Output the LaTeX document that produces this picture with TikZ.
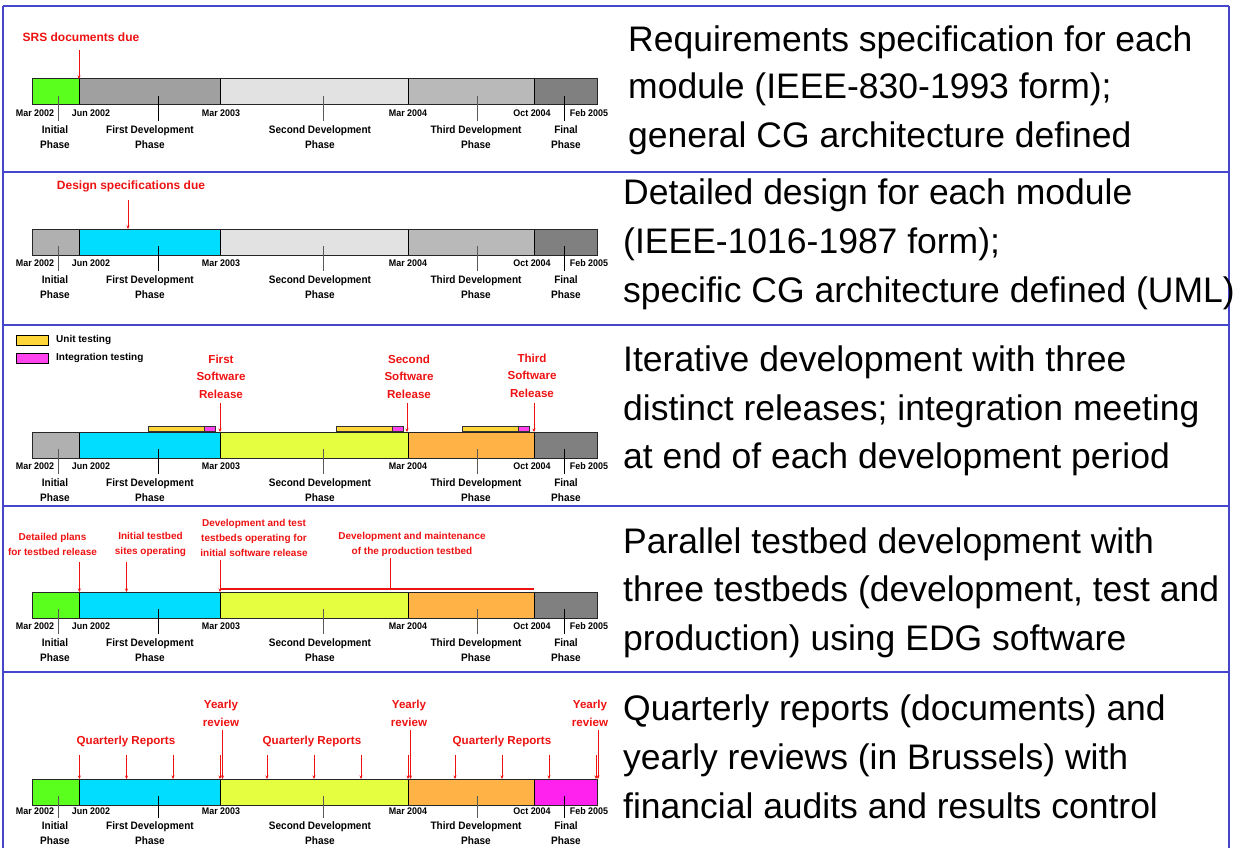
\documentclass[tikz,border=0pt]{standalone}
\usepackage{fontspec}
\setmainfont{Liberation Sans}
\newfontfamily\lblfont{Liberation Sans Bold}[FakeStretch=0.93]
\newfontfamily\redfnt{Liberation Sans Bold}
\usetikzlibrary{arrows.meta}
\definecolor{frameblue}{RGB}{70,70,205}
\definecolor{labred}{RGB}{238,18,18}
\definecolor{cgreen}{RGB}{90,255,30}
\definecolor{ccyan}{RGB}{0,221,255}
\definecolor{cygreen}{RGB}{229,255,64}
\definecolor{corange}{RGB}{255,179,71}
\definecolor{cmag}{RGB}{255,34,238}
\definecolor{gA}{RGB}{160,160,160}
\definecolor{gB}{RGB}{226,226,226}
\definecolor{gC}{RGB}{185,185,185}
\definecolor{gD}{RGB}{128,128,128}
\definecolor{gE}{RGB}{176,176,176}
\definecolor{unity}{RGB}{255,214,58}
\definecolor{integm}{RGB}{255,68,238}
\definecolor{ptrgray}{RGB}{90,90,90}
\tikzset{
  seg/.style={draw=black, line width=0.6pt},
  baredge/.style={draw=black!85, line width=1pt},
  ptr/.style={line width=0.9pt},
  datelbl/.style={font=\lblfont\fontsize{9.6}{11}\selectfont, inner sep=0pt},
  phaselbl/.style={font=\lblfont\fontsize{10.8}{15}\selectfont, align=center, inner sep=0pt},
  redlbl/.style={text=labred, font=\redfnt\fontsize{11.6}{17.5}\selectfont, align=center, inner sep=0pt},
  redsmall/.style={text=labred, font=\redfnt\fontsize{10}{15}\selectfont, align=center, inner sep=0pt},
  redarr/.style={draw=labred, line width=0.8pt, -{Stealth[length=3.5pt,width=3pt]}},
  desc/.style={font=\fontsize{35.5}{48}\selectfont, anchor=base west, inner sep=0pt},
  panelframe/.style={draw=frameblue, line width=1.6pt},
  legbox/.style={draw=black, line width=0.8pt},
  legtext/.style={font=\redfnt\fontsize{10}{12}\selectfont, anchor=west, inner sep=0pt},
  testbar/.style={draw=black!80, line width=0.5pt},
}
\def\dtoff{34}
\def\phoff{58}
\newcommand\tline[7]{%
  \pgfmathsetmacro\tT{#2}%
  \pgfmathsetmacro\tB{#2+26}%
  \pgfmathsetmacro\tD{#2+\dtoff}%
  \pgfmathsetmacro\tP{#2+\phoff}%
  \pgfmathsetmacro\tLs{#2+17}%
  \pgfmathsetmacro\tLe{#2+\phoff-16}%
  \fill[#3] (32,\tT) rectangle (79,\tB);
  \fill[#4] (79,\tT) rectangle (220,\tB);
  \fill[#5] (220,\tT) rectangle (408,\tB);
  \fill[#6] (408,\tT) rectangle (534,\tB);
  \fill[#7] (534,\tT) rectangle (597,\tB);
  \draw[seg] (79,\tT) -- (79,\tB) (220,\tT) -- (220,\tB) (408,\tT) -- (408,\tB) (534,\tT) -- (534,\tB);
  \draw[baredge] (32,\tT) rectangle (597,\tB);
  \node[datelbl] (#1d1) at (35,\tD) {Mar 2002};
  \node[datelbl] (#1d2) at (91,\tD) {Jun 2002};
  \node[datelbl] (#1d3) at (221,\tD) {Mar 2003};
  \node[datelbl] (#1d4) at (408,\tD) {Mar 2004};
  \node[datelbl] (#1d5) at (532,\tD) {Oct 2004};
  \node[datelbl] (#1d6) at (589,\tD) {Feb 2005};
  \draw[ptr, draw=ptrgray] (58,\tLs) -- (58,\tLe);
  \draw[ptr, draw=black] (158,\tLs) -- (158,\tLe);
  \draw[ptr, draw=ptrgray] (323,\tLs) -- (323,\tLe);
  \draw[ptr, draw=ptrgray] (477,\tLs) -- (477,\tLe);
  \draw[ptr, draw=black] (564,\tLs) -- (564,\tLe);
  \node[phaselbl] (#1p1) at (55,\tP) {Initial\\Phase};
  \node[phaselbl] (#1p2) at (150,\tP) {First Development\\Phase};
  \node[phaselbl] (#1p3) at (320,\tP) {Second Development\\Phase};
  \node[phaselbl] (#1p4) at (476,\tP) {Third Development\\Phase};
  \node[phaselbl] (#1p5) at (566,\tP) {Final\\Phase};
}
\begin{document}
\begin{tikzpicture}[x=1pt,y=-1pt]
\useasboundingbox (0,0) rectangle (1236,848);
\fill[white] (0,0) rectangle (1236,848);
% frame
\draw[panelframe] (3,6) -- (1229,6);
\draw[panelframe] (3,172) -- (1229,172);
\draw[panelframe] (3,325) -- (1229,325);
\draw[panelframe] (3,506) -- (1229,506);
\draw[panelframe] (3,672) -- (1229,672);
\draw[panelframe] (3,6) -- (3,848);
\draw[panelframe] (1229,6) -- (1229,848);

% ---------- panel 1
\tline{a}{79}{cgreen}{gA}{gB}{gC}{gD}
\node[redlbl, font=\redfnt\fontsize{12}{17}\selectfont] (srs) at (81,37) {SRS documents due};
\coordinate (srsS) at (79,50);
\coordinate (srsE) at (79,79);
\draw[redarr] (srsS) -- (srsE);

% ---------- panel 2
\tline{b}{229}{gE}{ccyan}{gB}{gC}{gD}
\node[redlbl, font=\redfnt\fontsize{12}{17}\selectfont] (dsd) at (131,186) {Design specifications due};
\coordinate (dsdS) at (128,200);
\coordinate (dsdE) at (128,229);
\draw[redarr] (dsdS) -- (dsdE);

% ---------- panel 3
\draw[legbox, fill=unity] (16.5,335) rectangle (48.5,345);
\node[legtext] (lu) at (56,340) {Unit testing};
\draw[legbox, fill=integm] (16.5,353) rectangle (48.5,363);
\node[legtext] (li) at (56,358) {Integration testing};
\draw[testbar, fill=unity] (148,426.5) rectangle (204,431);
\draw[testbar, fill=integm] (204,426.5) rectangle (215,431);
\draw[testbar, fill=unity] (336,426.5) rectangle (392,431);
\draw[testbar, fill=integm] (392,426.5) rectangle (403,431);
\draw[testbar, fill=unity] (462,426.5) rectangle (518.5,431);
\draw[testbar, fill=integm] (518.5,426.5) rectangle (529,431);
\tline{c}{432}{gE}{ccyan}{cygreen}{corange}{gD}
\node[redlbl] (r1) at (221,376.5) {First\\Software\\Release};
\node[redlbl] (r2) at (409,376.5) {Second\\Software\\Release};
\node[redlbl] (r3) at (532,375.5) {Third\\Software\\Release};
\coordinate (r1S) at (220,403); \coordinate (r1E) at (220,432);
\coordinate (r2S) at (407,403); \coordinate (r2E) at (407,432);
\coordinate (r3S) at (534,403); \coordinate (r3E) at (534,432);
\draw[redarr] (r1S) -- (r1E);
\draw[redarr] (r2S) -- (r2E);
\draw[redarr] (r3S) -- (r3E);

% ---------- panel 4
\tline{d}{592}{cgreen}{ccyan}{cygreen}{corange}{gD}
\node[redsmall] (t1) at (52.5,544.5) {Detailed plans\\for testbed release};
\node[redsmall] (t2) at (150.5,544.5) {Initial testbed\\sites operating};
\node[redsmall] (t3) at (254,538) {Development and test\\testbeds operating for\\initial software release};
\node[redsmall] (t4) at (412,544.5) {Development and maintenance\\of the production testbed};
\coordinate (t1S) at (79.4,562); \coordinate (t1E) at (79.4,592);
\coordinate (t2S) at (126.5,562); \coordinate (t2E) at (126.5,592);
\coordinate (t3S) at (220,560); \coordinate (t3E) at (220,592);
\draw[redarr] (t1S) -- (t1E);
\draw[redarr] (t2S) -- (t2E);
\draw[redarr] (t3S) -- (t3E);
\coordinate (prodL) at (221,589);
\coordinate (prodR) at (534,589);
\coordinate (prodT) at (390.5,558);
\coordinate (prodM) at (390.5,589);
\draw[draw=labred, line width=2pt] (prodL) -- (prodR);
\draw[draw=labred, line width=1.1pt] (prodT) -- (prodM);

% ---------- panel 5
\def\dtoff{32}
\def\phoff{54.5}
\tline{e}{779}{cgreen}{ccyan}{cygreen}{corange}{cmag}
\node[redlbl] (y1) at (221,713.5) {Yearly\\review};
\node[redlbl] (y2) at (409,713.5) {Yearly\\review};
\node[redlbl] (y3) at (590,713.5) {Yearly\\review};
\node[redlbl] (q1) at (126,741) {Quarterly Reports};
\node[redlbl] (q2) at (312,741) {Quarterly Reports};
\node[redlbl] (q3) at (502,741) {Quarterly Reports};
\foreach \qx [count=\qi] in {79.4,126.5,173,220,267,314,361,408,455,502,549,596}{
  \coordinate (qs\qi) at (\qx,755);
  \coordinate (qe\qi) at (\qx,779);
  \draw[redarr] (qs\qi) -- (qe\qi);
}
\foreach \yx [count=\yi] in {222.5,410.5,598}{
  \coordinate (ys\yi) at (\yx,730);
  \coordinate (ye\yi) at (\yx,779);
  \draw[redarr] (ys\yi) -- (ye\yi);
}

% ---------- descriptions
\node[desc] (a1) at (628,52) {Requirements specification for each};
\node[desc] (a2) at (628,99) {module (IEEE-830-1993 form);};
\node[desc] (a3) at (628,147) {general CG architecture defined};
\node[desc] (b1) at (623,204) {Detailed design for each module};
\node[desc] (b2) at (623,253) {(IEEE-1016-1987 form);};
\node[desc] (b3) at (623,302) {specific CG architecture defined (UML)};
\node[desc] (c1) at (623,371) {Iterative development with three};
\node[desc] (c2) at (623,420) {distinct releases; integration meeting};
\node[desc] (c3) at (623,468) {at end of each development period};
\node[desc] (d1) at (623,553) {Parallel testbed development with};
\node[desc] (d2) at (623,601) {three testbeds (development, test and};
\node[desc] (d3) at (623,650) {production) using EDG software};
\node[desc] (e1) at (623,720) {Quarterly reports (documents) and};
\node[desc] (e2) at (623,769) {yearly reviews (in Brussels) with};
\node[desc] (e3) at (623,818) {financial audits and results control};
\end{tikzpicture}
\end{document}
